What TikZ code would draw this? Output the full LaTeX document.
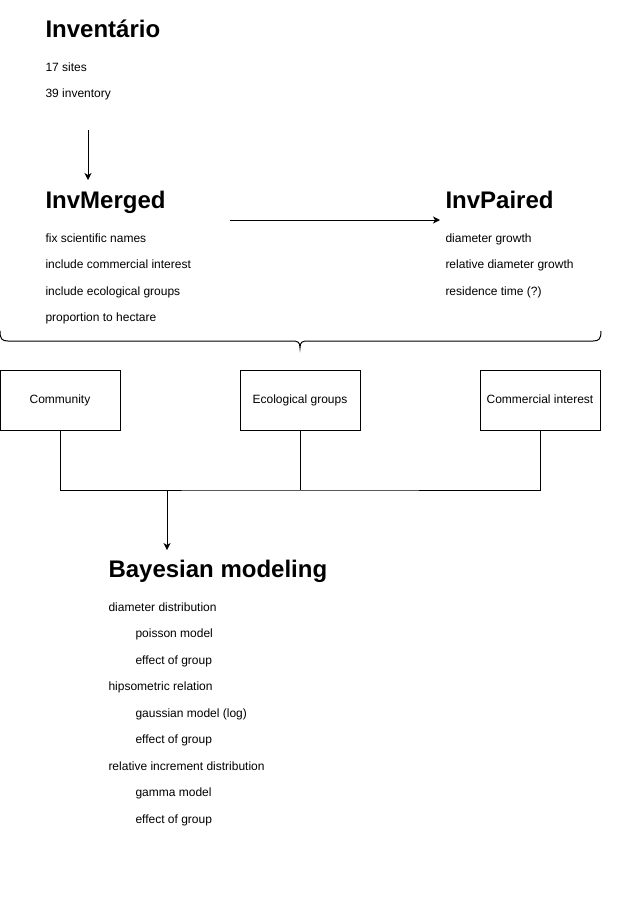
\documentclass[tikz,border=0pt]{standalone}
\usepackage{fontspec}
\setmainfont{Liberation Sans}
\usetikzlibrary{arrows.meta}

\begin{document}
\begin{tikzpicture}[x=1pt, y=-1pt, line width=1pt,
  title/.style={anchor=base west, inner sep=0pt, font=\fontsize{24}{28}\selectfont\bfseries},
  item/.style={anchor=base west, inner sep=0pt, font=\fontsize{12}{14}\selectfont},
  box/.style={draw, minimum width=120pt, minimum height=60pt, inner sep=0pt,
    text height=8.7pt, text depth=2.7pt, font=\fontsize{12}{14}\selectfont},
  arr/.style={-{Stealth[length=7pt, width=7pt, inset=2pt]}}]
\useasboundingbox (0, 0) rectangle (631, 911);
\node [title] (inv) at (45, 37) {Inventário};
\node [item] (sites) at (45, 71.5) {17 sites};
\node [item] (invcount) at (45, 97.5) {39 inventory};
\coordinate (invout) at (88, 130);
\coordinate (mergedin) at (88, 180);
\draw [arr] (invout) -- (mergedin);
\node [title] (merged) at (45, 208) {InvMerged};
\node [item] (names) at (45, 242) {fix scientific names};
\node [item] (comm) at (45, 268) {include commercial interest};
\node [item] (eco) at (45, 295) {include ecological groups};
\node [item] (hect) at (45, 321) {proportion to hectare};
\coordinate (mergedout) at (230, 220);
\coordinate (pairedin) at (440, 220);
\draw [arr] (mergedout) -- (pairedin);
\node [title] (paired) at (445, 208) {InvPaired};
\node [item] (dgrowth) at (445, 242) {diameter growth};
\node [item] (rgrowth) at (445, 268) {relative diameter growth};
\node [item] (restime) at (445, 295) {residence time (?)};
% brace under both blocks
\coordinate (bracetip) at (300, 348);
\draw (0, 331) .. controls (0, 339) and (2, 341) .. (8, 341) -- (292, 341)
  .. controls (298, 341) and (300, 342) .. (bracetip)
  .. controls (300, 342) and (302, 341) .. (308, 341) -- (593, 341)
  .. controls (599, 341) and (601, 339) .. (601, 331);
\node [box] (community) at (60, 400) {Community};
\node [box] (ecological) at (300, 400) {Ecological groups};
\node [box] (commercial) at (540, 400) {Commercial interest};
\coordinate (join) at (300, 490);
\coordinate (bayesout) at (167, 490);
\coordinate (bayesin) at (167, 550);
\draw (community.south) |- (join) -| (commercial.south);
\draw (ecological.south) -- (join);
\draw [arr] (bayesout) -- (bayesin);
\node [title] (bayes) at (108, 577) {Bayesian modeling};
\node [item] (ddist) at (108, 611) {diameter distribution};
\node [item] (poisson) at (135, 637.5) {poisson model};
\node [item] (effa) at (135, 664) {effect of group};
\node [item] (hips) at (108, 690.5) {hipsometric relation};
\node [item] (gauss) at (135, 717) {gaussian model (log)};
\node [item] (effb) at (135, 743.5) {effect of group};
\node [item] (rinc) at (108, 770) {relative increment distribution};
\node [item] (gamma) at (135, 796.5) {gamma model};
\node [item] (effc) at (135, 823) {effect of group};
\end{tikzpicture}
\end{document}
